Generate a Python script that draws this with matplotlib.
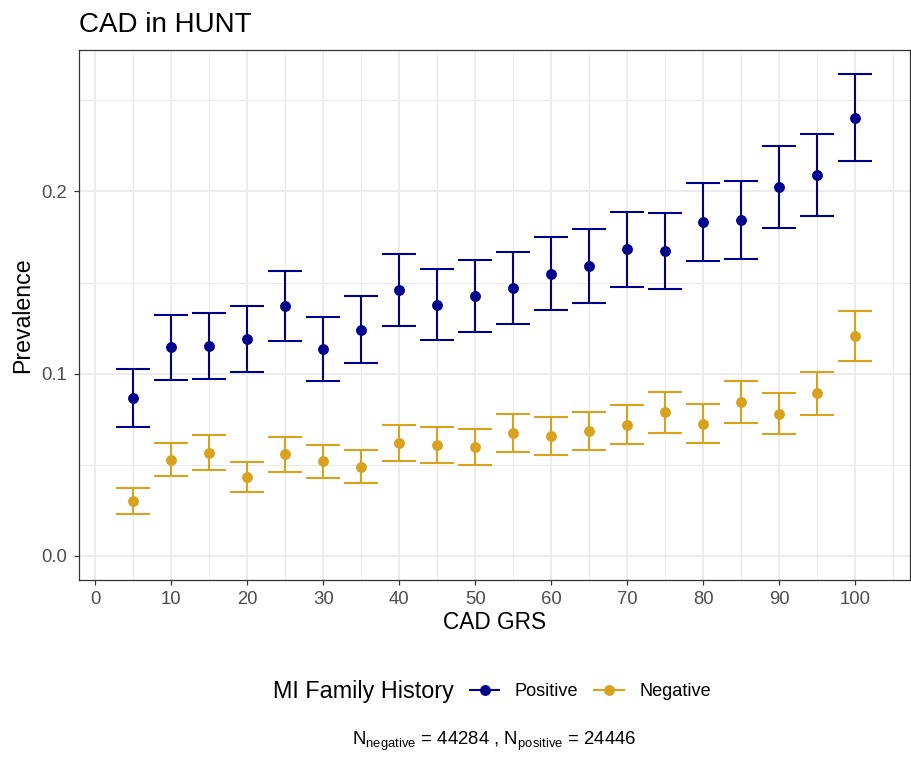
import matplotlib
matplotlib.use("Agg")
import matplotlib.pyplot as plt
from matplotlib.lines import Line2D
import numpy as np

plt.rcParams["font.family"] = ["Liberation Sans", "DejaVu Sans"]
plt.rcParams["mathtext.fontset"] = "custom"
plt.rcParams["mathtext.rm"] = "Liberation Sans"
plt.rcParams["mathtext.it"] = "Liberation Sans:italic"

# CAD genetic risk score percentile bins
grs = [5, 10, 15, 20, 25, 30, 35, 40, 45, 50, 55, 60, 65, 70, 75, 80, 85, 90, 95, 100]

# Prevalence with 95% CI, positive MI family history
pos_mean = [0.0866, 0.1144, 0.1151, 0.1191, 0.1370, 0.1134, 0.1242, 0.1460, 0.1379, 0.1428,
            0.1468, 0.1549, 0.1589, 0.1682, 0.1673, 0.1834, 0.1845, 0.2024, 0.2090, 0.2405]
pos_upper = [0.1023, 0.1321, 0.1330, 0.1372, 0.1564, 0.1312, 0.1425, 0.1659, 0.1573, 0.1624,
             0.1668, 0.1752, 0.1794, 0.1890, 0.1882, 0.2049, 0.2060, 0.2249, 0.2316, 0.2645]
pos_lower = [0.0709, 0.0964, 0.0972, 0.1010, 0.1178, 0.0957, 0.1058, 0.1262, 0.1186, 0.1231,
             0.1271, 0.1348, 0.1385, 0.1474, 0.1465, 0.1619, 0.1627, 0.1799, 0.1863, 0.2167]

# Prevalence with 95% CI, negative MI family history
neg_mean = [0.0298, 0.0528, 0.0564, 0.0433, 0.0556, 0.0519, 0.0488, 0.0618, 0.0608, 0.0596,
            0.0672, 0.0658, 0.0687, 0.0720, 0.0789, 0.0725, 0.0842, 0.0780, 0.0892, 0.1205]
neg_upper = [0.0371, 0.0621, 0.0660, 0.0517, 0.0650, 0.0610, 0.0578, 0.0718, 0.0707, 0.0694,
             0.0776, 0.0760, 0.0791, 0.0827, 0.0901, 0.0833, 0.0957, 0.0892, 0.1010, 0.1341]
neg_lower = [0.0227, 0.0435, 0.0468, 0.0349, 0.0459, 0.0427, 0.0398, 0.0519, 0.0508, 0.0497,
             0.0567, 0.0553, 0.0581, 0.0612, 0.0676, 0.0618, 0.0727, 0.0667, 0.0773, 0.1071]

series_labels = ["Positive", "Negative"]
series_colors = ["#00008B", "#D8A21E"]
x_ticks = [0, 10, 20, 30, 40, 50, 60, 70, 80, 90, 100]
y_ticks = [0.0, 0.1, 0.2]
y_tick_labels = ["0.0", "0.1", "0.2"]
n_negative = 44284
n_positive = 24446

W, H = 911, 761
fig = plt.figure(figsize=(W / 100, H / 100), dpi=100)
fig.patch.set_facecolor("white")

left, right, top, bottom = 78.7, 910.0, 50.0, 579.7
ax = fig.add_axes([left / W, 1 - bottom / H, (right - left) / W, (bottom - top) / H])

ax.set_xlim(-2.2, 107.2)
ax.set_ylim(-0.0132, 0.2777)

series = [
    (pos_mean, pos_lower, pos_upper),
    (neg_mean, neg_lower, neg_upper),
]
for (mean, lo, hi), color in zip(series, series_colors):
    mean = np.array(mean)
    yerr = np.vstack([mean - np.array(lo), np.array(hi) - mean])
    ax.errorbar(grs, mean, yerr=yerr, fmt="o", color=color, ecolor=color,
                markersize=6.8, elinewidth=1.5, capsize=12, capthick=1.5, zorder=3)

# grid in the light grey style
ax.set_xticks(x_ticks)
ax.set_xticks(np.arange(5, 110, 10), minor=True)
ax.set_yticks(y_ticks)
ax.set_yticklabels(y_tick_labels)
ax.set_yticks([0.05, 0.15, 0.25], minor=True)
ax.grid(which="major", color="#EBEBEB", linewidth=1.3, zorder=0)
ax.grid(which="minor", color="#EBEBEB", linewidth=0.7, zorder=0)
ax.set_axisbelow(True)

for s in ax.spines.values():
    s.set_color("#333333")
    s.set_linewidth(0.9)

ax.tick_params(which="major", length=3.8, width=0.9, color="#333333",
               labelsize=13.3, labelcolor="#4D4D4D", pad=4.5)
ax.tick_params(which="minor", length=0)

ax.set_xlabel("CAD GRS", fontsize=16.3, color="black", labelpad=2)
ax.set_ylabel("Prevalence", fontsize=16.7, color="black", labelpad=5)

fig.text(79 / W, 1 - 32 / H, "CAD in HUNT", fontsize=20, ha="left", va="baseline")

# legend: title on the left, keys in one row
fig.text(273 / W, 1 - 691.5 / H, "MI Family History", fontsize=16.8,
         ha="left", va="center")
handles = [Line2D([], [], color=c, marker="o", markersize=6.8, linewidth=1.5)
           for c in series_colors]
fig.legend(handles, series_labels, loc="center left",
           bbox_to_anchor=(470 / W, 1 - 691.5 / H), ncol=2, frameon=False,
           fontsize=13.1, handlelength=1.6, handletextpad=0.85, columnspacing=0.9,
           borderpad=0, borderaxespad=0)

caption = (r"N$_{\mathregular{negative}}$ = " + f"{n_negative}" +
           r" , N$_{\mathregular{positive}}$ = " + f"{n_positive}")
fig.text(494 / W, 1 - 745 / H, caption, fontsize=13.4, ha="center", va="baseline")

fig.savefig("out.png", dpi=100)
